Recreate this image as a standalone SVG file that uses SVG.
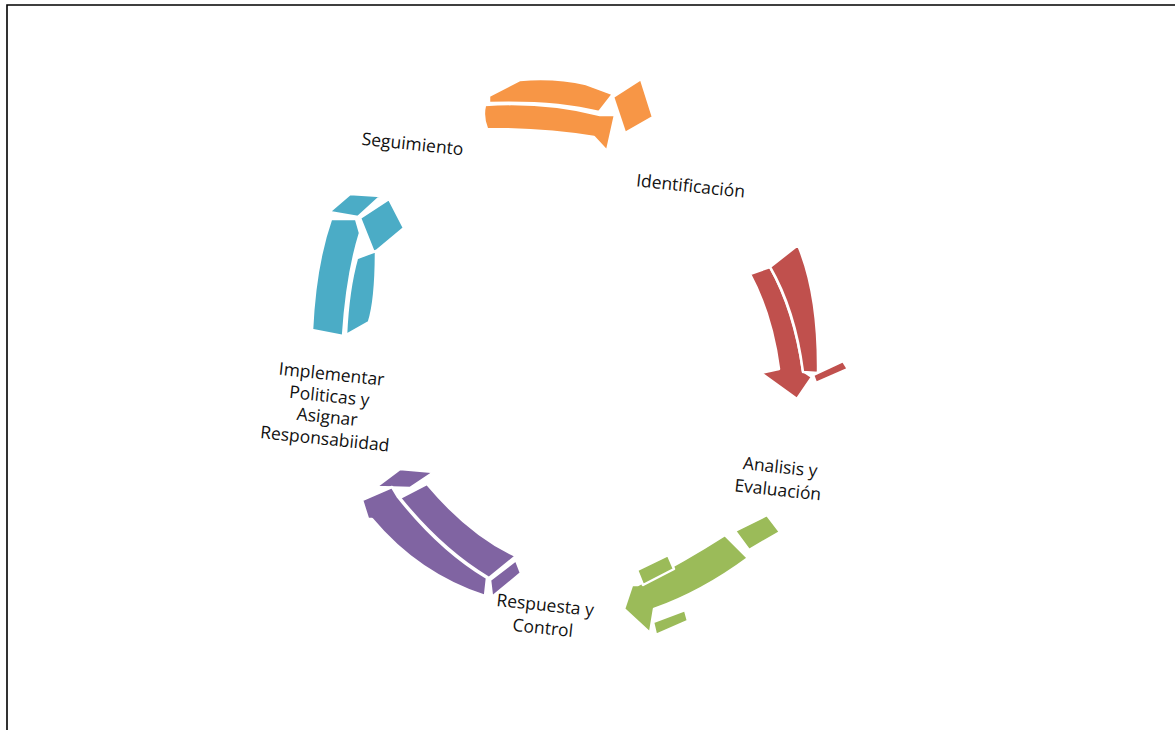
<svg xmlns="http://www.w3.org/2000/svg" width="1175" height="730" viewBox="0 0 1175 730">
<style>
.lbl{font-family:"Open Sans","Liberation Sans",sans-serif;font-size:17.5px;fill:#111;text-anchor:middle}
.sh{stroke:#fff;stroke-width:2.5;stroke-linejoin:round}
.or{fill:#F79646}.rd{fill:#C0504D}.gr{fill:#9BBB59}.pu{fill:#8064A2}.bl{fill:#4BACC6}
</style>
<rect x="0" y="0" width="1175" height="730" fill="#fff"/>
<path d="M7,730 L7,5 L1175,5" fill="none" stroke="#000" stroke-width="1.6"/>
<g id="connectors">
<g id="arrow-orange">
<path class="sh or" d="M489,96 L520,80 Q555,77 586,84 L613,94 L599,112 Q555,101 489,103 Z"/>
<path class="sh or" d="M485,105 Q545,101 600,115 L615,115 L607,151 L594,137 Q545,129 487,129 Q482,117 485,105 Z"/>
<path class="sh or" d="M613,97 L641,79 L653,117 L625,133 Z"/>
</g>
<g id="arrow-red">
<path class="sh rd" d="M750,274 L770,267 Q794,310 803,371 L812,377 L797,399 L761,373 L779,369 Q772,315 750,274 Z"/>
<path class="sh rd" d="M770,267 L798,245 Q819,295 818,373 L803,372 Q795,310 770,267 Z"/>
<path class="sh rd" d="M813,375 L843,361 L848,369 L816,383 Z"/>
</g>
<g id="arrow-green">
<path class="sh gr" d="M735,531 L767,515 L780,532 L749,550 Z"/>
<path class="sh gr" d="M725,535 L748,558 Q702,592 654,609 L650,633 L624,609 L632,585 L638,585 Q686,560 725,535 Z"/>
<path class="sh gr" d="M637,570 L668,555 L674,569 L643,585 Z"/>
<path class="sh gr" d="M653,622 L685,610 L688,621 L656,635 Z"/>
</g>
<g id="arrow-purple">
<path class="sh pu" d="M376,487 L400,469 L434,472 L410,488 Z"/>
<path class="sh pu" d="M362,500 L392,487 L398,497 Q440,550 487,578 L485,596 Q418,574 372,519 L368,519 Z"/>
<path class="sh pu" d="M400,498 L427,484 Q470,535 516,556 L489,578 Q442,550 400,498 Z"/>
<path class="sh pu" d="M490,580 L516,560 L521,573 L492,597 Z"/>
</g>
<g id="arrow-blue">
<path class="sh bl" d="M329,212 L350,194 L381,196 L358,217 Z"/>
<path class="sh bl" d="M360,218 L389,199 L404,228 L374,253 Z"/>
<path class="sh bl" d="M331,219 L356,219 L360,233 Q347,275 343,336 L312,330 Q315,265 331,219 Z"/>
<path class="sh bl" d="M357,258 L376,251 Q376,300 369,322 L346,335 Q348,290 357,258 Z"/>
</g>
</g>
<g id="node-seguimiento"><text class="lbl" transform="translate(412,150) rotate(6)">Seguimiento</text></g>
<g id="node-identificacion"><text class="lbl" transform="translate(690,192) rotate(6)">Identificación</text></g>
<g id="node-analisis" transform="translate(779,479) rotate(6)">
<text class="lbl" x="0" y="-6">Analisis y</text>
<text class="lbl" x="0" y="17">Evaluación</text>
</g>
<g id="node-respuesta" transform="translate(544,617) rotate(6)">
<text class="lbl" x="0" y="-6">Respuesta y</text>
<text class="lbl" x="0" y="17">Control</text>
</g>
<g id="node-implementar" transform="translate(328,409) rotate(6)">
<text class="lbl" x="0" y="-29">Implementar</text>
<text class="lbl" x="0" y="-7">Politicas y</text>
<text class="lbl" x="0" y="14">Asignar</text>
<text class="lbl" x="0" y="36">Responsabiidad</text>
</g>
</svg>
